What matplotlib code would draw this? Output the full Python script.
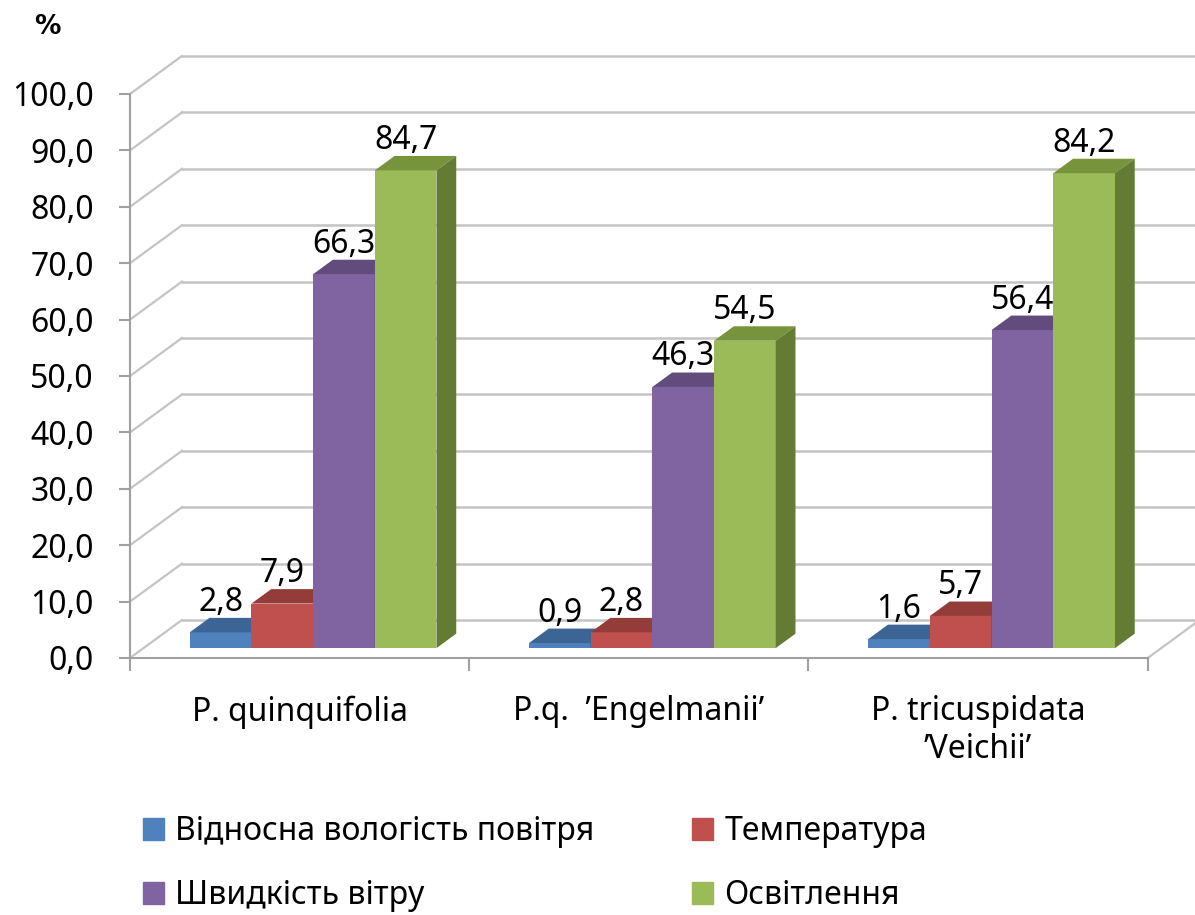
import matplotlib.pyplot as plt
from matplotlib.patches import Polygon, Patch

# data
categories = ["P. quinquifolia", "P.q.  \u2019Engelmanii\u2019", "P. tricuspidata\n\u2019Veichii\u2019"]
series_names = ["Відносна вологість повітря", "Температура", "Швидкість вітру", "Освітлення"]
humidity = [2.8, 0.9, 1.6]
temperature = [7.9, 2.8, 5.7]
wind = [66.3, 46.3, 56.4]
light = [84.7, 54.5, 84.2]
series = [humidity, temperature, wind, light]
y_ticks = [0, 10, 20, 30, 40, 50, 60, 70, 80, 90, 100]

front_col = ['#4F81BD', '#C0504D', '#8064A2', '#9BBB59']
top_col = ['#3C6494', '#943C3A', '#624C7E', '#77933C']
side_col = ['#32547C', '#7D3230', '#523F69', '#637B32']

plt.rcParams['font.family'] = ['Noto Sans', 'DejaVu Sans']
FS = 23

fig = plt.figure(figsize=(11.95, 9.15), dpi=100)
ax = fig.add_axes([130 / 1195, 257 / 915, 1072 / 1195, 603.5 / 915])
ax.set_xlim(0, 3.16)
ax.set_ylim(0, 107)

# 3d depth of the plot box (in data units)
DX, DY = 0.1532, 6.74
f0, f1 = 0.26, 0.64          # bar front / back position inside the depth
grid_c = '#C4C4C4'

# walls: gridlines on back wall + diagonals on side wall
for v in y_ticks:
    ax.plot([0, DX], [v, v + DY], color=grid_c, lw=1.6, zorder=1)
    ax.plot([DX, 3 + DX], [v + DY, v + DY], color=grid_c, lw=1.8, zorder=1)
ax.plot([3, 3 + DX], [0, DY], color=grid_c, lw=1.6, zorder=1)

# bars
w = 1 / 5.5
bx, by = f0 * DX, f0 * DY
ddx, ddy = (f1 - f0) * DX, (f1 - f0) * DY
for i in range(len(categories)):
    for j, vals in enumerate(series):
        v = vals[i]
        x0 = i + 0.5 + bx - 2 * w + j * w
        x1 = x0 + w
        z = 3 + i * 4 + j
        ax.bar(x0, v, width=w, bottom=by, align='edge', color=front_col[j], zorder=z)
        ax.add_patch(Polygon([(x0, v + by), (x1, v + by), (x1 + ddx, v + by + ddy),
                              (x0 + ddx, v + by + ddy)], closed=True,
                             facecolor=top_col[j], edgecolor='none', zorder=z))
        ax.add_patch(Polygon([(x1, by), (x1, v + by), (x1 + ddx, v + by + ddy),
                              (x1 + ddx, by + ddy)], closed=True,
                             facecolor=side_col[j], edgecolor='none', zorder=z))
        ax.text(x0 + w / 2, v + by + ddy + 1.25, f"{v:.1f}".replace('.', ','),
                ha='center', va='baseline', fontsize=FS, zorder=50)

# axes
for s in ['top', 'right']:
    ax.spines[s].set_visible(False)
ax.spines['left'].set_bounds(0, 100)
ax.spines['bottom'].set_bounds(0, 3)
for s in ['left', 'bottom']:
    ax.spines[s].set_color('#A0A0A0')
    ax.spines[s].set_linewidth(1.5)
ax.set_yticks(y_ticks)
ax.set_yticklabels([f"{v:.1f}".replace('.', ',') for v in y_ticks])
ax.tick_params(axis='y', length=8, width=1.5, color='#A0A0A0', labelsize=FS, pad=18)
ax.set_xticks([0, 1, 2, 3])
ax.set_xticklabels([])
ax.tick_params(axis='x', length=9, width=1.5, color='#A0A0A0')

for i, c in enumerate(categories):
    ax.text(i + 0.5, -6.6, c, ha='center', va='top', fontsize=FS, linespacing=1.2)

fig.text(47 / 1195, 1 - 27 / 915, '%', fontsize=19, fontweight='bold',
         family='DejaVu Sans', ha='center', va='center')

handles = [Patch(color=c) for c in front_col]
order = [0, 2, 1, 3]
fig.legend([handles[k] for k in order], [series_names[k] for k in order], ncol=2,
           loc='upper left', bbox_to_anchor=(143 / 1195, 1 - 815 / 915), frameon=False,
           fontsize=FS, handlelength=0.66, handleheight=0.66, handletextpad=0.35,
           columnspacing=3.05, labelspacing=0.98, borderpad=0, borderaxespad=0)

fig.savefig('out.png', dpi=100)
